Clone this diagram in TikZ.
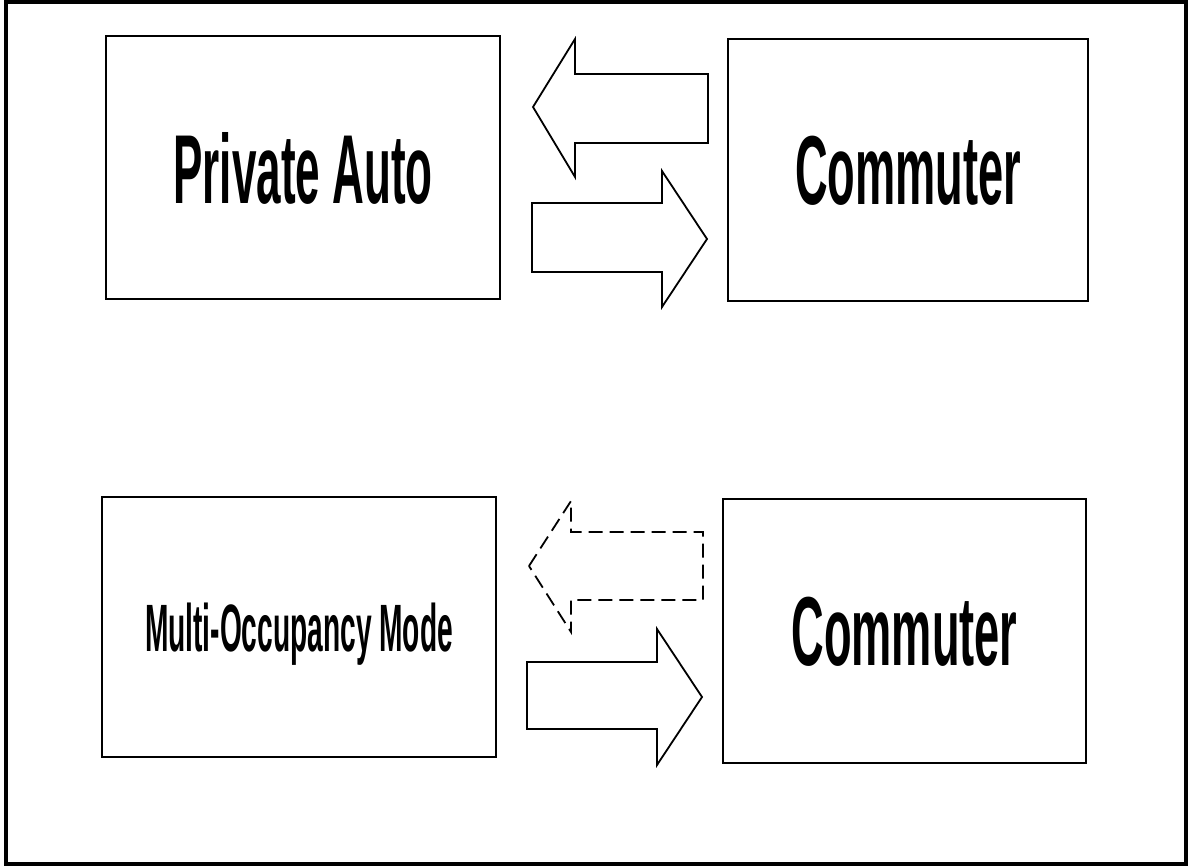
\documentclass[tikz,border=0pt]{standalone}
\usepackage{fontspec}
\setmainfont{Liberation Sans}
\usepackage{graphicx}

\begin{document}
\begin{tikzpicture}[
		x = 1pt, y = -1pt,
		frame/.style = {draw, line width=3.4pt},
		modebox/.style = {
			shape=rectangle, draw, line width=2.4pt,
			inner sep=0pt, text depth=0pt},
		bigtext/.style = {font=\fontsize{98}{100}\selectfont\bfseries},
		smalltext/.style = {font=\fontsize{67}{70}\selectfont\bfseries},
		blockarrow/.style = {draw, line width=1.8pt, line join=miter},
		dasharrow/.style = {blockarrow, dash pattern=on 14pt off 7pt}]
		
		\useasboundingbox (0,0) rectangle (1192,867);
		\draw[frame] (6,2) rectangle (1186,864);
		
		% upper pair
		\node[modebox, bigtext, minimum width=394pt, minimum height=263pt]
			(auto) at (303,167.5) {\scalebox{0.449}[1]{Private Auto}};
		\node[modebox, bigtext, minimum width=360pt, minimum height=262pt]
			(commA) at (908,170) {\scalebox{0.461}[1]{Commuter}};
		
		% lower pair
		\node[modebox, smalltext, minimum width=394pt, minimum height=260pt]
			(multi) at (299,627) {\scalebox{0.42}[1]{Multi-Occupancy Mode}};
		\node[modebox, bigtext, minimum width=363pt, minimum height=264pt]
			(commB) at (904.5,631) {\scalebox{0.461}[1]{Commuter}};
		
		% arrows between the boxes
		\draw[blockarrow] (533,107) -- (575,39) -- (575,74) -- (708,74)
			-- (708,143) -- (575,143) -- (575,177) -- cycle;
		\draw[blockarrow] (707,239) -- (662,171) -- (662,203) -- (532,203)
			-- (532,272) -- (662,272) -- (662,307) -- cycle;
		\draw[dasharrow] (529,566) -- (571,501) -- (571,532) -- (703,532)
			-- (703,600) -- (571,600) -- (571,632) -- cycle;
		\draw[blockarrow] (702,697) -- (657,629) -- (657,662) -- (527,662)
			-- (527,729) -- (657,729) -- (657,765) -- cycle;
		
\end{tikzpicture}
\end{document}
